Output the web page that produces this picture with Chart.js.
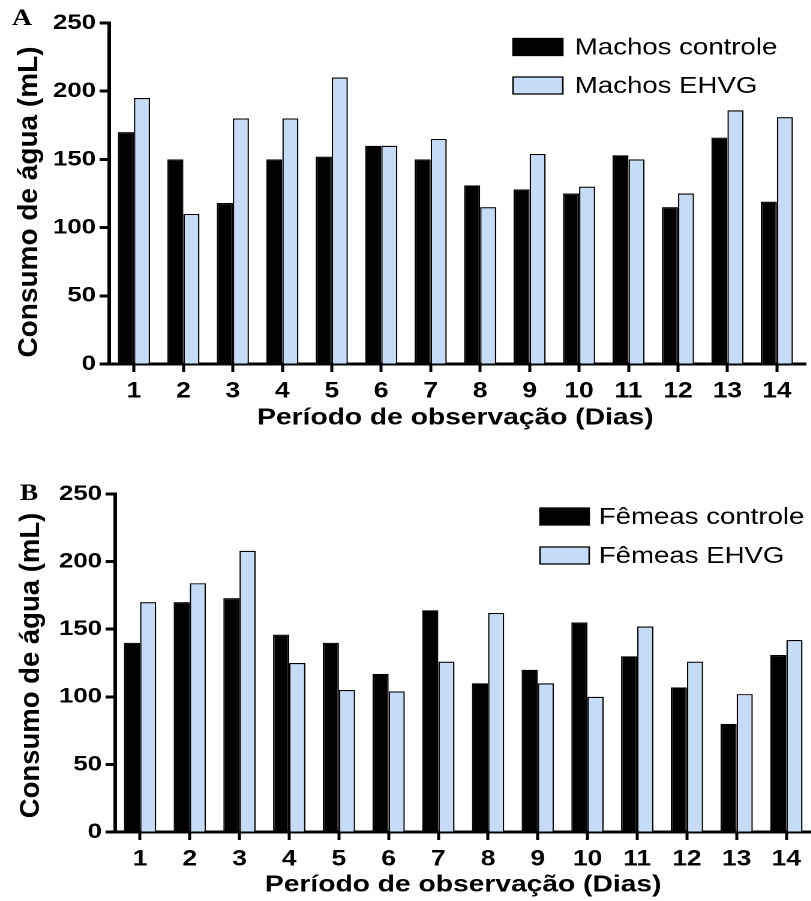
<!DOCTYPE html>
<html><head><meta charset="utf-8">
<script src="https://cdn.jsdelivr.net/npm/chart.js@4"></script>
<style>
html,body{margin:0;padding:0;background:#fff;}
body{width:811px;height:901px;position:relative;overflow:hidden;}
.wrap{position:absolute;left:0;transform-origin:0 0;transform:scaleX(1.2);}
canvas{display:block;}
</style></head><body>
<div class="wrap" style="top:0px"><canvas id="cA" width="676" height="432"></canvas></div>
<div class="wrap" style="top:450px"><canvas id="cB" width="676" height="451"></canvas></div>
<script>
// ---- data ----
const categories = ['1','2','3','4','5','6','7','8','9','10','11','12','13','14'];
const machosControle = [170,150,118,150,152,160,150,131,128,125,153,115,166,119];
const machosEHVG     = [195,110,180,180,210,160,165,115,154,130,150,125,186,181];
const femeasControle = [140,170,173,146,140,117,164,110,120,155,130,107,80,131];
const femeasEHVG     = [170,184,208,125,105,104,126,162,110,100,152,126,102,142];
const yTickValues = [0,50,100,150,200,250];
const seriesNamesA = ['Machos controle','Machos EHVG'];
const seriesNamesB = ['Fêmeas controle','Fêmeas EHVG'];
const xTitle = 'Período de observação (Dias)';
const yTitle = 'Consumo de água (mL)';

const S = 1.2; // horizontal stretch applied by CSS
const FONT = "'Liberation Sans', Arial, Helvetica, sans-serif";
const BLACK = '#000000';
const BLUE = '#c6dcf6';

const decor = {
  id: 'decor',
  afterDraw(chart, args, o) {
    const ctx = chart.ctx;
    ctx.save();
    // panel letter
    ctx.fillStyle = '#000';
    ctx.font = "bold 23px 'Liberation Serif', 'Times New Roman', serif";
    ctx.textAlign = 'left'; ctx.textBaseline = 'alphabetic';
    ctx.fillText(o.letter, o.letterX, o.letterY);
    // y title (compensate horizontal stretch)
    ctx.save();
    ctx.translate(o.ytX, o.ytY);
    ctx.scale(1 / S, 1);
    ctx.rotate(-Math.PI / 2);
    ctx.font = 'bold ' + o.ytSize + 'px ' + FONT;
    ctx.textAlign = 'center'; ctx.textBaseline = 'middle';
    ctx.fillText(yTitle, 0, 0);
    ctx.restore();
    // legend
    chart.data.datasets.forEach((ds, i) => {
      const cy = o.legY + i * o.legGap;
      ctx.fillStyle = ds.backgroundColor;
      ctx.fillRect(o.legX, cy - o.boxH / 2, o.boxW, o.boxH);
      ctx.lineWidth = 1.3;
      ctx.strokeStyle = '#000';
      ctx.strokeRect(o.legX, cy - o.boxH / 2, o.boxW, o.boxH);
      ctx.fillStyle = '#000';
      ctx.font = '23px ' + FONT;
      ctx.textAlign = 'left'; ctx.textBaseline = 'middle';
      ctx.fillText(ds.label, o.legTextX, cy + 1);
    });
    // extend x axis line to the right a little
    if (o.axisExt) {
      ctx.fillStyle = '#000';
      ctx.fillRect(chart.chartArea.right - 1, chart.chartArea.bottom - 1.5, o.axisExt, 3);
    }
    ctx.restore();
  }
};

function makeChart(id, names, d1, d2, layout, yWidth, deco) {
  return new Chart(document.getElementById(id), {
    type: 'bar',
    data: {
      labels: categories,
      datasets: [
        { label: names[0], data: d1, backgroundColor: BLACK, borderColor: '#000', borderWidth: 1.2 },
        { label: names[1], data: d2, backgroundColor: BLUE, borderColor: '#000', borderWidth: 1.2 }
      ]
    },
    options: {
      responsive: false,
      animation: false,
      devicePixelRatio: 2,
      layout: { padding: layout },
      datasets: { bar: { categoryPercentage: 0.65, barPercentage: 1.0 } },
      plugins: { legend: { display: false }, tooltip: { enabled: false }, decor: deco },
      scales: {
        x: {
          grid: { display: true, drawOnChartArea: false, drawTicks: true, offset: false,
                  tickLength: 8, tickWidth: 2.5, tickColor: '#000' },
          border: { display: true, color: '#000', width: 3 },
          ticks: { color: '#000', font: { family: FONT, size: 22, weight: 'bold' }, padding: 6, maxRotation: 0, autoSkip: false },
          title: { display: true, text: xTitle, color: '#000', font: { family: FONT, size: 23.5, weight: 'bold' }, padding: { top: 0, bottom: deco.titlePad } },
          afterFit: s => { s.height = deco.xH; }
        },
        y: {
          min: 0, max: 250,
          afterBuildTicks: s => { s.ticks = yTickValues.map(v => ({ value: v })); },
          grid: { display: true, drawOnChartArea: false, drawTicks: true, tickLength: 8, tickWidth: 3, tickColor: '#000' },
          border: { display: true, color: '#000', width: 3 },
          ticks: { color: '#000', font: { family: FONT, size: 21.5, weight: 'bold' }, padding: 3 },
          afterFit: s => { s.width = yWidth; }
        }
      }
    },
    plugins: [decor]
  });
}

makeChart('cA', seriesNamesA, machosControle, machosEHVG,
  { top: 23, right: 8, left: 0, bottom: 0 }, 91,
  { letter: 'A', letterX: 10, letterY: 25, ytX: 24.5, ytY: 202, ytSize: 28,
    legX: 427.5, legY: 47, legGap: 38.5, boxW: 41.5, boxH: 17, legTextX: 479, xH: 68, axisExt: 5, titlePad: 0 });

makeChart('cB', seriesNamesB, femeasControle, femeasEHVG,
  { top: 44, right: 0, left: 0, bottom: 0 }, 96,
  { letter: 'B', letterX: 16.5, letterY: 50, ytX: 26, ytY: 215.5, ytSize: 27.5,
    legX: 450, legY: 66.5, legGap: 39, boxW: 41, boxH: 17, legTextX: 499, xH: 69, axisExt: 0, titlePad: 2 });
</script>
</body></html>
